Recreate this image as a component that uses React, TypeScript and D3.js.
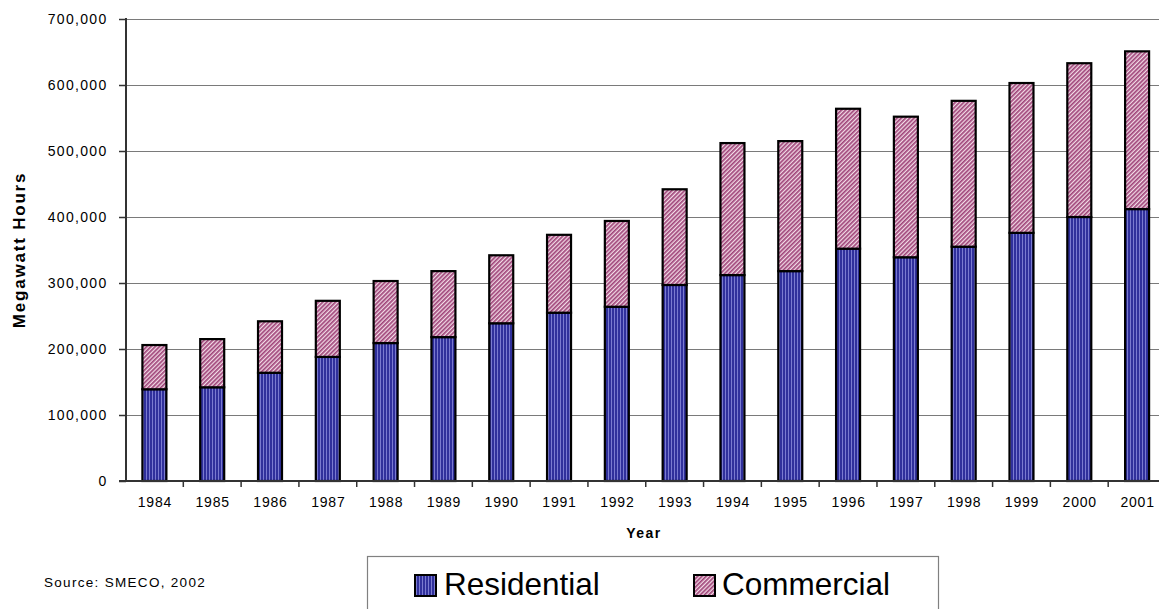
import React from "react";
import * as d3 from "d3";

const years = ["1984","1985","1986","1987","1988","1989","1990","1991","1992","1993","1994","1995","1996","1997","1998","1999","2000","2001"];
const residential = [139000,142000,164000,188000,209000,218000,239000,255000,264000,297000,312000,318000,352000,339000,355000,376000,400000,412000];
const commercial = [67000,73000,78000,85000,94000,100000,103000,118000,130000,145000,200000,197000,212000,213000,221000,227000,233000,239000];
const yTicks = [0,100000,200000,300000,400000,500000,600000,700000];
const seriesNames = ["Residential","Commercial"];

const W = 1159, H = 609;
const FONT = "Arial, 'Liberation Sans', sans-serif";

export default function App() {
  const x = d3.scaleBand<string>().domain(years).range([125.5, 1166]).paddingInner(0.585).paddingOuter(0.2925);
  const y = d3.scaleLinear().domain([0, 700000]).range([481, 19]);
  const fmt = d3.format(",");
  const step = x.step();
  const x0 = 125.5;

  return (
    <svg width={W} height={H} style={{ position: "absolute", left: 0, top: 0, background: "#fff" }} fontFamily={FONT}>
      <defs>
        <pattern id="resPat" patternUnits="userSpaceOnUse" width="3" height="4">
          <rect width="3" height="4" fill="#30309c" />
          <rect x="2" width="1" height="4" fill="#7a7ad0" />
        </pattern>
        <pattern id="comPat" patternUnits="userSpaceOnUse" width="3" height="3" patternTransform="rotate(45)">
          <rect width="3" height="3" fill="#f2dbe6" />
          <rect width="1.7" height="3" fill="#a0457a" />
        </pattern>
      </defs>

      {/* gridlines */}
      {yTicks.filter(t => t > 0).map(t => (
        <line key={"g" + t} x1={126} x2={W} y1={y(t) + 0.5} y2={y(t) + 0.5} stroke="#7a7a7a" strokeWidth={1} />
      ))}

      {/* bars */}
      {years.map((yr, i) => {
        const bx = x(yr)!;
        const bw = x.bandwidth();
        const r = residential[i];
        const c = commercial[i];
        return (
          <g key={yr}>
            <rect x={bx} y={y(r)} width={bw} height={y(0) - y(r)} fill="url(#resPat)" stroke="#000" strokeWidth={2.2} />
            <rect x={bx} y={y(r + c)} width={bw} height={y(r) - y(r + c)} fill="url(#comPat)" stroke="#000" strokeWidth={2.2} />
          </g>
        );
      })}

      {/* y axis */}
      <line x1={126} x2={126} y1={18} y2={482} stroke="#333" strokeWidth={2} />
      {yTicks.map(t => (
        <g key={"y" + t}>
          <line x1={119} x2={126} y1={y(t) + 0.5} y2={y(t) + 0.5} stroke="#333" strokeWidth={1.5} />
          <text x={107.5} y={y(t) + 5} textAnchor="end" fontSize={14} letterSpacing={1.3} fill="#000">{fmt(t)}</text>
        </g>
      ))}

      {/* x axis */}
      <line x1={119} x2={W} y1={481} y2={481} stroke="#333" strokeWidth={2} />
      {years.map((yr, i) => (
        <line key={"xt" + yr} x1={x0 + step * (i + 1)} x2={x0 + step * (i + 1)} y1={481} y2={487} stroke="#333" strokeWidth={1.5} />
      ))}
      {years.map(yr => (
        <text key={"xl" + yr} x={x(yr)! + x.bandwidth() / 2 + 0.5} y={507} textAnchor="middle" fontSize={14} letterSpacing={0.8} fill="#000">{yr}</text>
      ))}

      {/* axis titles */}
      <text x={644} y={538} textAnchor="middle" fontSize={14} fontWeight="bold" letterSpacing={1.5} fill="#000">Year</text>
      <text transform="translate(25,250) rotate(-90)" textAnchor="middle" fontSize={17} fontWeight="bold" letterSpacing={1.8} fill="#000">Megawatt Hours</text>

      {/* source */}
      <text x={44} y={587} fontSize={13.5} letterSpacing={1.3} fill="#000">Source: SMECO, 2002</text>

      {/* legend */}
      <rect x={367.5} y={556.5} width={571} height={70} fill="#fff" stroke="#808080" strokeWidth={1.2} />
      <rect x={415} y={575} width={21} height={21} fill="url(#resPat)" stroke="#000" strokeWidth={2} />
      <text x={444} y={595} fontSize={31.5} fill="#000">{seriesNames[0]}</text>
      <rect x={694} y={575} width={21} height={21} fill="url(#comPat)" stroke="#000" strokeWidth={2} />
      <text x={722} y={595} fontSize={31.5} fill="#000">{seriesNames[1]}</text>
    </svg>
  );
}
